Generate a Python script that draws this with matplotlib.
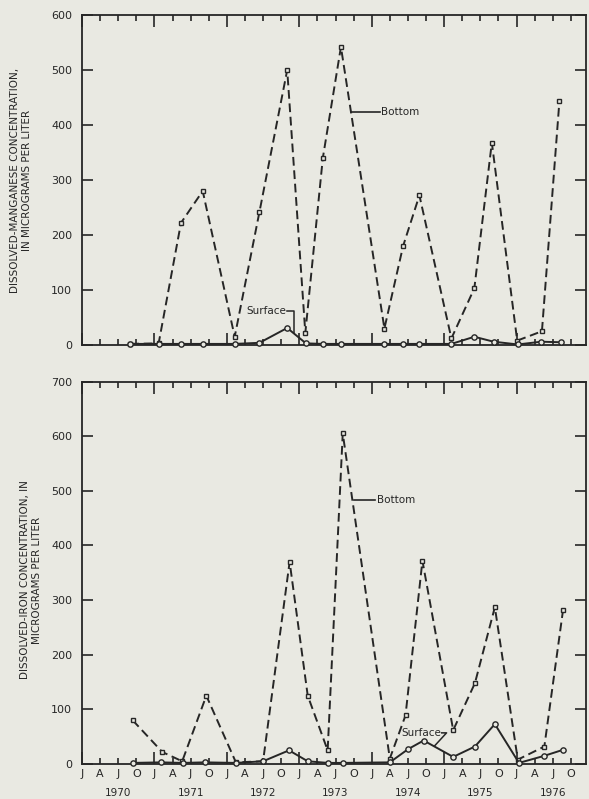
"""Dissolved manganese and iron, surface and bottom samples, 1970-76."""

import matplotlib
matplotlib.use("Agg")
import matplotlib.pyplot as plt
from matplotlib.ticker import FixedLocator, FixedFormatter
import matplotlib.transforms as mtransforms

PAPER = "#e9e9e2"
INK = "#262626"

# sample dates in months after January 1970
mn_bottom_dates = [8.0, 12.7, 16.4, 20.0, 25.3, 29.4, 34.0, 37.0, 39.9, 42.9,
                   50.1, 53.2, 55.9, 61.2, 65.0, 67.9, 72.1, 76.2, 79.1]
mn_bottom = [2, 3, 222, 280, 15, 242, 500, 22, 340, 542,
             30, 180, 272, 12, 103, 368, 8, 25, 444]

mn_surface_dates = [8.0, 12.7, 16.4, 20.0, 25.3, 29.4, 34.0, 37.1, 39.9, 42.9,
                    50.1, 53.2, 55.9, 61.2, 65.0, 68.2, 72.2, 76.1, 79.3]
mn_surface = [2, 2, 2, 2, 2, 4, 31, 3, 2, 2,
              2, 2, 2, 2, 15, 6, 1, 6, 5]

fe_bottom_dates = [8.4, 13.3, 16.6, 20.6, 25.5, 30.0, 34.4, 37.4, 40.7, 43.2,
                   51.0, 53.6, 56.4, 61.5, 65.1, 68.4, 72.2, 76.6, 79.7]
fe_bottom = [80, 22, 5, 125, 3, 5, 370, 125, 25, 605,
             10, 89, 372, 62, 148, 287, 8, 32, 282]

fe_surface_dates = [8.4, 13.1, 16.7, 20.3, 25.5, 30.0, 34.3, 37.4, 40.7, 43.2,
                    51.0, 54.0, 56.6, 61.5, 65.1, 68.4, 72.4, 76.6, 79.7]
fe_surface = [2, 3, 2, 3, 2, 5, 25, 5, 2, 2,
              3, 27, 43, 13, 32, 73, 2, 15, 26]

years = ["1970", "1971", "1972", "1973", "1974", "1975", "1976"]
quarter_letters = ["J", "A", "J", "O"]

FONT = "DejaVu Sans"
plt.rcParams["font.family"] = FONT
plt.rcParams["text.color"] = INK


def style_axes(ax, ymax, show_labels):
    ax.set_facecolor(PAPER)
    ax.set_xlim(0, 83.5)
    ax.set_ylim(0, ymax)
    for spine in ax.spines.values():
        spine.set_color(INK)
        spine.set_linewidth(1.3)

    majors = list(range(0, 84, 12))
    minors = [m for m in range(0, 84, 3) if m % 12]
    ax.xaxis.set_major_locator(FixedLocator(majors))
    ax.xaxis.set_minor_locator(FixedLocator(minors))
    if show_labels:
        ax.xaxis.set_major_formatter(FixedFormatter(["J"] * len(majors)))
        ax.xaxis.set_minor_formatter(
            FixedFormatter([quarter_letters[(m // 3) % 4] for m in minors]))
    else:
        ax.xaxis.set_major_formatter(FixedFormatter([""] * len(majors)))
        ax.xaxis.set_minor_formatter(FixedFormatter([""] * len(minors)))

    ax.set_yticks(range(0, ymax + 1, 100))
    ax.tick_params(axis="x", which="major", direction="in", length=8.5,
                   width=1.2, color=INK, top=True, bottom=True,
                   labelsize=8, labelcolor=INK, pad=3.5)
    ax.tick_params(axis="x", which="minor", direction="in", length=4.5,
                   width=1.2, color=INK, top=True, bottom=True,
                   labelsize=8, labelcolor=INK, pad=3.5)
    ax.tick_params(axis="y", direction="in", length=8, width=1.2,
                   color=INK, left=True, right=True, labelsize=8,
                   labelcolor=INK, pad=7)


def draw_series(ax, b_dates, b_vals, s_dates, s_vals):
    ax.plot(b_dates, b_vals, color=INK, lw=1.4, dashes=(4.5, 2.4),
            marker="s", ms=3.4, mfc=PAPER, mec=INK, mew=1.0, zorder=3,
            clip_on=False)
    ax.plot(s_dates, s_vals, color=INK, lw=1.4, marker="o", ms=3.8,
            mfc=PAPER, mec=INK, mew=1.0, zorder=4, clip_on=False)


fig = plt.figure(figsize=(5.89, 7.99), dpi=100)
fig.patch.set_facecolor(PAPER)

ax_mn = fig.add_axes([0.1392, 0.5682, 0.8557, 0.4130])
ax_fe = fig.add_axes([0.1392, 0.0438, 0.8557, 0.4787])

style_axes(ax_mn, 600, False)
style_axes(ax_fe, 700, True)

draw_series(ax_mn, mn_bottom_dates, mn_bottom, mn_surface_dates, mn_surface)
draw_series(ax_fe, fe_bottom_dates, fe_bottom, fe_surface_dates, fe_surface)

# labels on the manganese panel
ax_mn.plot([44.6, 49.3], [424, 424], color=INK, lw=1.2)
ax_mn.text(49.6, 424, "Bottom", fontsize=7.5, va="center", ha="left")
ax_mn.text(27.2, 61, "Surface", fontsize=7.5, va="center", ha="left")
ax_mn.plot([33.9, 35.2, 35.2], [61, 61, 22], color=INK, lw=1.1)

# labels on the iron panel
ax_fe.plot([45.0, 48.5], [484, 484], color=INK, lw=1.2)
ax_fe.text(48.8, 484, "Bottom", fontsize=7.5, va="center", ha="left")
ax_fe.text(52.9, 57, "Surface", fontsize=7.5, va="center", ha="left")
ax_fe.plot([59.6, 60.4, 58.4], [57, 57, 33], color=INK, lw=1.1)

# year labels under July of each year
trans = mtransforms.blended_transform_factory(ax_fe.transData, ax_fe.transAxes)
for i, year in enumerate(years):
    ax_fe.text(6 + 12 * i, -0.076, year, transform=trans, fontsize=7.5,
               ha="center", va="center")

fig.text(0.036, 1 - 180 / 799,
         "DISSOLVED-MANGANESE CONCENTRATION,\nIN MICROGRAMS PER LITER",
         rotation=90, fontsize=7.5, ha="center", va="center",
         multialignment="center", linespacing=1.2)
fig.text(0.053, 1 - 580 / 799,
         "DISSOLVED-IRON CONCENTRATION, IN\nMICROGRAMS PER LITER",
         rotation=90, fontsize=7.5, ha="center", va="center",
         multialignment="center", linespacing=1.2)

fig.savefig("out.png", dpi=100, facecolor=PAPER)
